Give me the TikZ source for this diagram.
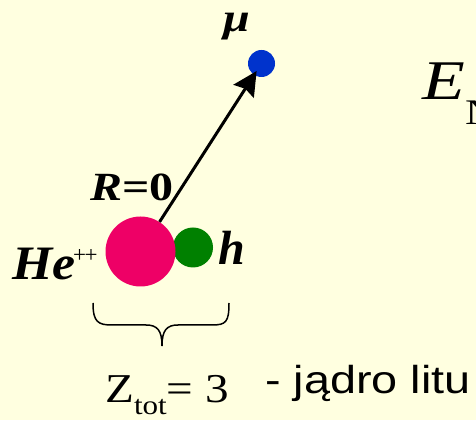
\documentclass[tikz,border=0pt]{standalone}
\usepackage{fontspec}
\setmainfont{Liberation Serif}
\setsansfont{Liberation Sans}
\usetikzlibrary{arrows.meta, positioning}
\definecolor{bgyellow}{RGB}{255,255,224}
\definecolor{muonblue}{RGB}{0,51,204}
\definecolor{hepink}{RGB}{238,0,102}
\definecolor{hgreen}{RGB}{0,128,0}

\begin{document}
\begin{tikzpicture}[x=1pt, y=1pt,
    ball/.style={circle, inner sep=0pt},
    lbl/.style={inner sep=0pt, xscale=1.2, font=\fontsize{40}{44}\selectfont\bfseries\itshape},
    biglbl/.style={inner sep=0pt, font=\fontsize{48}{52}\selectfont\bfseries\itshape}]
    \clip (0,0) rectangle (476,420);
    \fill[bgyellow] (0,0) rectangle (476,420);

    % particles
    \node[ball, fill=hgreen,   minimum size=40pt] (hh) at (193,172.5) {};
    \node[ball, fill=hepink,   minimum size=70pt] (he) at (140.5,168.5) {};
    \node[ball, fill=muonblue, minimum size=27pt] (mu) at (261.5,356.5) {};
    \draw[line width=3pt, -{Stealth[length=24pt, width=24pt, inset=3pt]}, shorten >=9pt]
        (he) -- (mu.center);

    % labels
    \node[lbl]    (mulbl) at (236.5,393.5) {μ};
    \node[lbl]    (rlbl)  at (132,233)     {R\textup{=0}};
    \node[biglbl, right=5pt of hh] (hlbl)  {h};
    \node[biglbl, anchor=base west, xscale=1.08] (helbl) at (12,140) {He};
    \node[inner sep=0pt, anchor=south west, font=\fontsize{23}{23}\selectfont] (pp) at (73,157) {+\kern-1.5pt+};
    \node[inner sep=0pt, anchor=base west, xscale=1.25, font=\fontsize{56}{60}\selectfont] (en) at (422,320)
        {\textit{E}\raisebox{-25pt}{\fontsize{36}{36}\selectfont N}};

    % brace under the nucleus
    \draw[line width=1.5pt]
        (93,117) .. controls (93,98) and (98,95) .. (112,95) -- (146,95)
        .. controls (157,95) and (162,90) .. (162,74)
        .. controls (162,90) and (167,95) .. (178,95) -- (212,95)
        .. controls (226,95) and (229,98) .. (229,117);

    \node[inner sep=0pt, anchor=base west, xscale=1.15, font=\fontsize{41}{44}\selectfont] (ztot) at (105,18)
        {Z\raisebox{-13pt}{\fontsize{27}{27}\selectfont tot}= 3};
    \node[inner sep=0pt, anchor=base west, xscale=1.2, font=\sffamily\fontsize{39}{44}\selectfont] (lit) at (265,27)
        {- jądro litu};
\end{tikzpicture}
\end{document}
